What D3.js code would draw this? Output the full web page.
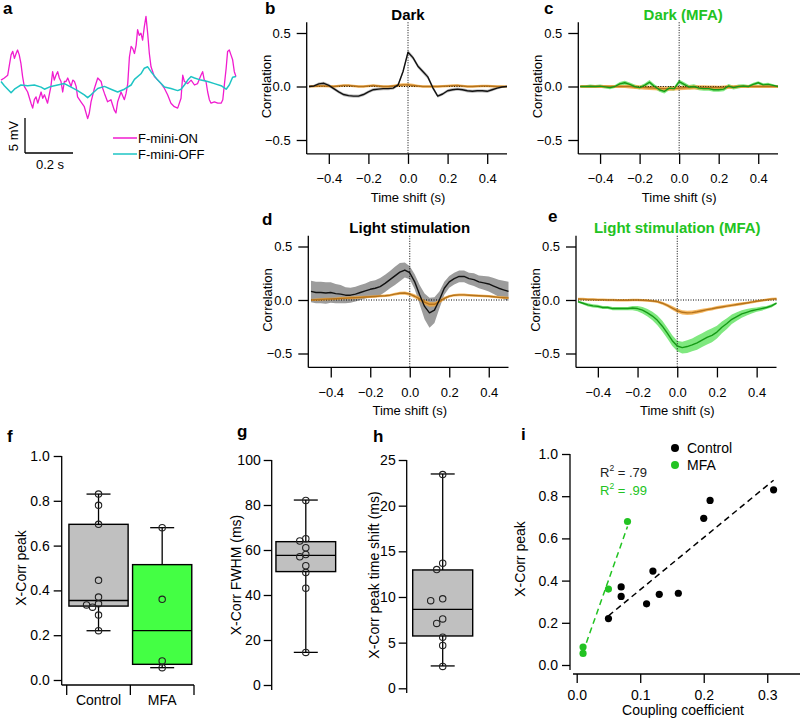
<!DOCTYPE html>
<html>
<head>
<meta charset="utf-8">
<script src="https://cdn.jsdelivr.net/npm/d3@7"></script>
<style>
  body { margin: 0; background: #fff; }
  svg { display: block; font-family: "Liberation Sans", Arial, sans-serif; }
</style>
</head>
<body>
<svg id="fig" width="800" height="720"></svg>
<script>
// ---------- data ----------

// a: example membrane potential traces (time in ms, voltage in mV)
var onTime = [0,14,28,42,49,56,63,69,76,83,90,97,111,125,132,139,146,153,167,174,
  181,194,208,215,222,229,236,243,250,257,264,271,278,292,299,306,313,319,333,347,
  361,368,375,389,403,417,424,431,444,458,472,479,486,500,514,521,528,535,542,549,
  556,563,569,576,583,590,597,604,611,618,625,632,639,653,667,681,694,708,722,736,
  750,757,764,778,792,806,819,833,840,847,854,861,868,875,889,903,917,924,931,938,
  944,951,958,965,972,979];
var onMv = [0.7,1.0,1.4,4.3,4.8,3.8,4.5,5.0,4.3,3.1,1.2,-0.2,-1.0,-2.6,-3.3,-2.1,-1.7,-2.6,-1.0,-1.9,
  -1.4,-2.6,-0.2,1.9,0.7,1.4,1.9,1.0,0.5,-1.0,0.5,0.5,1.0,-0.2,0.7,0.5,-0.2,-1.7,-2.4,-3.1,
  -4.8,-4.0,-2.4,-0.5,1.0,0.5,-0.5,-1.2,-2.4,-2.1,-3.6,-4.0,-2.4,-1.0,-2.1,-1.2,0.2,4.0,5.5,5.2,
  4.5,5.7,7.9,7.1,7.4,6.4,8.3,9.8,7.4,4.5,2.6,1.9,1.2,0.7,0.2,-0.5,-1.4,-2.6,-3.1,-3.3,
  -1.9,1.4,0.5,0.2,0.7,0.0,0.2,1.4,1.9,0.7,0.5,-1.0,-2.1,-2.6,-2.4,-2.6,-2.6,-2.1,0.2,2.4,
  4.8,5.0,4.3,3.6,1.9,1.2];
var offTime = [0,14,28,42,56,69,83,111,139,167,181,208,236,264,292,319,347,361,375,403,
  431,458,486,514,542,556,583,597,611,625,639,653,667,681,708,736,750,764,778,792,
  806,833,861,889,917,938,951,965,979];
var offMv = [0.5,-0.1,-0.6,-1.1,-0.6,-0.3,0.0,-0.1,0.0,-0.3,-0.6,-0.2,0.0,0.2,-0.3,-0.8,-1.4,-1.8,-1.4,-0.5,
  -0.2,-0.6,-1.0,-0.6,0.0,0.8,1.6,2.4,2.6,1.9,1.3,0.7,0.2,-0.3,-0.5,-0.8,-0.6,0.0,0.7,1.2,
  1.0,0.7,0.5,0.2,-0.1,-0.6,0.0,1.1,1.2];
var traceNames = ['F-mini-ON', 'F-mini-OFF'];

// b-e: cross-correlation vs time shift (s)
var lags = [-0.5,-0.475,-0.45,-0.425,-0.4,-0.375,-0.35,-0.325,-0.3,-0.275,-0.25,-0.225,-0.2,-0.175,-0.15,-0.125,-0.1,-0.075,-0.05,-0.025,
  0,0.025,0.05,0.075,0.1,0.125,0.15,0.175,0.2,0.225,0.25,0.275,0.3,0.325,0.35,0.375,0.4,0.425,0.45,0.475,0.5];

var darkMean = [0.00,0.005,0.025,0.03,0.01,-0.02,-0.05,-0.075,-0.085,-0.09,-0.09,-0.075,-0.05,-0.03,-0.025,-0.02,-0.02,-0.015,0.015,0.14,
  0.32,0.27,0.19,0.14,0.09,-0.01,-0.09,-0.07,-0.04,-0.03,-0.025,-0.03,-0.04,-0.045,-0.04,-0.04,-0.045,-0.03,-0.015,-0.005,0.0];
var darkSem = [0.01,0.012,0.015,0.015,0.015,0.015,0.015,0.015,0.015,0.015,0.015,0.015,0.015,0.015,0.015,0.015,0.015,0.015,0.015,0.02,
  0.02,0.02,0.02,0.02,0.02,0.02,0.015,0.015,0.015,0.015,0.015,0.015,0.015,0.015,0.015,0.015,0.015,0.015,0.012,0.01,0.008];
var darkShufMean = [0,0.003,0.005,0.005,0.003,0.0,0.005,0.01,0.01,0.005,0.0,0.0,0.005,0.01,0.005,0.0,0.0,0.005,0.01,0.015,
  0.015,0.01,0.005,0.0,0.0,0.0,0.0,0.003,0.005,0.008,0.01,0.005,0.0,0.0,0.003,0.005,0.005,0.003,0.0,0.0,0.0];
var darkShufSem = [0.01,0.012,0.012,0.012,0.012,0.012,0.012,0.012,0.012,0.012,0.012,0.012,0.012,0.012,0.012,0.012,0.012,0.012,0.015,0.015,
  0.015,0.015,0.012,0.012,0.012,0.012,0.012,0.012,0.012,0.012,0.012,0.012,0.012,0.012,0.012,0.012,0.012,0.012,0.012,0.012,0.01];

var darkMfaMean = [0,0,0.003,0,0.003,-0.003,-0.01,0,0.025,0.035,0.02,0,-0.01,0.01,0.04,0,-0.03,-0.045,-0.015,-0.02,
  0.045,0.02,-0.005,0,-0.015,-0.02,-0.02,-0.03,-0.03,-0.025,0.005,-0.01,0,0.005,0,0.02,0.035,0.015,0.02,0.01,0];
var darkMfaSem = [0.01,0.012,0.015,0.015,0.015,0.015,0.015,0.015,0.018,0.018,0.018,0.018,0.018,0.018,0.02,0.02,0.02,0.02,0.02,0.02,
  0.02,0.02,0.02,0.02,0.02,0.02,0.02,0.02,0.02,0.02,0.018,0.018,0.018,0.015,0.015,0.015,0.015,0.015,0.015,0.012,0.01];
var darkMfaShufMean = [0,0,0,0,0,0,0,0,0,0,0,-0.005,-0.008,-0.01,-0.012,-0.015,-0.018,-0.02,-0.02,-0.018,
  -0.015,-0.012,-0.01,-0.008,-0.008,-0.008,-0.01,-0.01,-0.01,-0.008,-0.005,-0.003,0,0,0,0,0,0,0,0,0];
var darkMfaShufSem = [0.015,0.015,0.015,0.015,0.015,0.015,0.015,0.015,0.015,0.015,0.018,0.018,0.018,0.02,0.02,0.02,0.02,0.02,0.02,0.02,
  0.02,0.02,0.02,0.02,0.02,0.02,0.02,0.02,0.018,0.018,0.018,0.015,0.015,0.015,0.015,0.015,0.015,0.015,0.015,0.015,0.015];

var lightMean = [0.08,0.07,0.07,0.065,0.07,0.06,0.055,0.045,0.045,0.055,0.07,0.085,0.10,0.11,0.125,0.155,0.19,0.225,0.26,0.28,
  0.255,0.17,0.05,-0.06,-0.12,-0.095,0.0,0.11,0.17,0.2,0.22,0.22,0.2,0.19,0.17,0.16,0.15,0.13,0.11,0.095,0.08];
var lightSem = [0.10,0.10,0.10,0.10,0.095,0.09,0.085,0.075,0.07,0.07,0.07,0.07,0.075,0.075,0.08,0.08,0.08,0.085,0.085,0.07,
  0.06,0.07,0.09,0.12,0.14,0.12,0.08,0.06,0.055,0.055,0.055,0.055,0.055,0.06,0.06,0.065,0.07,0.075,0.08,0.085,0.09];
var lightShufMean = [0,0.002,0.005,0.008,0.01,0.012,0.015,0.018,0.02,0.022,0.025,0.028,0.03,0.033,0.037,0.04,0.045,0.055,0.063,0.065,
  0.055,0.035,0.01,-0.02,-0.04,-0.04,-0.015,0.015,0.035,0.045,0.048,0.048,0.045,0.042,0.04,0.037,0.035,0.03,0.025,0.022,0.02];
var lightShufSem = [0.01,0.012,0.012,0.012,0.012,0.012,0.012,0.012,0.012,0.012,0.012,0.012,0.012,0.012,0.012,0.012,0.012,0.012,0.015,0.015,
  0.015,0.018,0.02,0.022,0.022,0.02,0.018,0.015,0.012,0.012,0.012,0.012,0.012,0.012,0.012,0.012,0.012,0.012,0.012,0.012,0.01];

var lightMfaMean = [-0.015,-0.03,-0.045,-0.055,-0.06,-0.07,-0.07,-0.08,-0.08,-0.08,-0.08,-0.075,-0.08,-0.095,-0.12,-0.15,-0.19,-0.245,-0.31,-0.38,
  -0.43,-0.445,-0.435,-0.42,-0.40,-0.375,-0.35,-0.33,-0.30,-0.255,-0.22,-0.18,-0.155,-0.13,-0.115,-0.10,-0.09,-0.08,-0.07,-0.055,-0.03];
var lightMfaSem = [0.01,0.012,0.015,0.015,0.015,0.015,0.015,0.015,0.015,0.015,0.015,0.02,0.025,0.03,0.035,0.04,0.045,0.05,0.05,0.05,
  0.05,0.055,0.06,0.06,0.065,0.065,0.065,0.065,0.06,0.055,0.05,0.045,0.04,0.035,0.03,0.025,0.02,0.02,0.015,0.015,0.01];
var lightMfaShufMean = [0.01,0.008,0.005,0.004,0.003,0.002,0.0,0.0,-0.002,-0.002,-0.002,0,0,-0.002,-0.005,-0.01,-0.015,-0.03,-0.05,-0.075,
  -0.1,-0.115,-0.12,-0.118,-0.11,-0.1,-0.09,-0.082,-0.072,-0.065,-0.057,-0.05,-0.042,-0.035,-0.028,-0.02,-0.012,-0.005,0.002,0.008,0.012];
var lightMfaShufSem = [0.012,0.012,0.012,0.012,0.012,0.012,0.012,0.012,0.012,0.012,0.012,0.012,0.012,0.012,0.012,0.012,0.012,0.014,0.016,0.018,
  0.02,0.02,0.02,0.02,0.018,0.018,0.016,0.015,0.015,0.015,0.014,0.014,0.013,0.013,0.012,0.012,0.012,0.012,0.012,0.012,0.012];

// f-i: per cell summary values
var groups = ['Control', 'MFA'];
var couplingCtrl = [0.05,0.07,0.07,0.11,0.12,0.13,0.16,0.20,0.21,0.31];
var peakCtrl     = [0.22,0.37,0.325,0.29,0.445,0.335,0.34,0.695,0.78,0.83];
var couplingMfa  = [0.01,0.01,0.05,0.08];
var peakMfa      = [0.085,0.055,0.36,0.68];
var fwhm = [82,65,64,61,58,57,53,50,43,14.5];
var peakShift = [23.4,13.7,13.0,9.8,9.6,7.6,7.1,5.6,4.7,2.4];
// box statistics as drawn: [whisker low, q1, median, q3, whisker high]
var peakBoxCtrl = [0.22,0.33,0.355,0.695,0.83];
var peakBoxMfa  = [0.055,0.07,0.22,0.515,0.68];
var fwhmBox  = [14.5,50.4,57.6,63.7,82.2];
var shiftBox = [2.45,5.73,8.65,12.96,23.47];
var r2Labels = ['.79', '.99'];

// ---------- styling ----------
var svg = d3.select('#fig');
var greenText = '#22c322';
var magenta = '#f01ccf';
var cyan = '#1ec4c4';

function styleAxis(a, fs) {
  a.select('.domain').remove();
  a.selectAll('line').attr('stroke', '#000').attr('stroke-width', 1.3);
  a.selectAll('text').attr('font-size', fs).attr('fill', '#000')
    .attr('font-family', '"Liberation Sans", Arial, sans-serif');
}

function vline(g, x, y0, y1) {
  g.append('line').attr('x1', x).attr('x2', x).attr('y1', y0).attr('y2', y1)
    .attr('stroke', '#000').attr('stroke-width', 1.3);
}
function hline(g, y, x0, x1) {
  g.append('line').attr('x1', x0).attr('x2', x1).attr('y1', y).attr('y2', y)
    .attr('stroke', '#000').attr('stroke-width', 1.3);
}

function label(g, txt, x, y, opt) {
  opt = opt || {};
  var t = g.append('text').attr('x', x).attr('y', y).text(txt)
    .attr('font-size', opt.size || 13)
    .attr('text-anchor', opt.anchor || 'middle')
    .attr('fill', opt.color || '#000');
  if (opt.bold) t.attr('font-weight', 'bold');
  if (opt.rotate) t.attr('transform', 'rotate(-90,' + x + ',' + y + ')');
  return t;
}

// panel letters
var letterPos = {a: [3, 14], b: [265, 13.5], c: [544, 13.5], d: [262, 225], e: [548, 222],
                 f: [7, 442], g: [237, 437], h: [373, 442], i: [521, 440]};
Object.keys(letterPos).forEach(function (k) {
  label(svg, k, letterPos[k][0], letterPos[k][1], {size: 17, bold: true, anchor: 'start'});
});

// ---------- a: traces ----------
(function () {
  var g = svg.append('g');
  var x = d3.scaleLinear().domain([0, 979]).range([1, 236]);
  var y = d3.scaleLinear().domain([0, 5]).range([85, 50]);
  var line = d3.line().x(function (d) { return x(d[0]); }).y(function (d) { return y(d[1]); });

  g.append('path').datum(d3.zip(onTime, onMv)).attr('d', line)
    .attr('fill', 'none').attr('stroke', magenta).attr('stroke-width', 1.3).attr('stroke-linejoin', 'round');
  g.append('path').datum(d3.zip(offTime, offMv)).attr('d', line)
    .attr('fill', 'none').attr('stroke', cyan).attr('stroke-width', 1.5).attr('stroke-linejoin', 'round');

  // scale bars: 5 mV, 0.2 s
  var bx = 25, by = 153;
  vline(g, bx, by - (y(0) - y(5)), by);
  hline(g, by, bx, bx + (x(200) - x(0)));
  label(g, '5 mV', 18, 136, {rotate: true, size: 13});
  label(g, '0.2 s', 50, 169, {size: 13});

  var cols = [magenta, cyan];
  traceNames.forEach(function (n, i) {
    var ly = 138 + i * 16;
    g.append('line').attr('x1', 113).attr('x2', 137).attr('y1', ly).attr('y2', ly)
      .attr('stroke', cols[i]).attr('stroke-width', 1.5);
    label(g, n, 138, ly + 5, {anchor: 'start', size: 13});
  });
})();

// ---------- b-e: correlation panels ----------
function corrPanel(o) {
  var g = svg.append('g');
  var x = d3.scaleLinear().domain([-0.5, 0.5]).range([o.x0, o.x1]);
  var y = d3.scaleLinear().domain([-0.5, 0.5]).range([o.zeroY + 53.5, o.zeroY - 53.5]);
  var top = y(0.6), bottom = y(-0.63);

  var area = d3.area().x(function (d) { return x(d[0]); })
    .y0(function (d) { return y(d[1] - d[2]); })
    .y1(function (d) { return y(d[1] + d[2]); });
  var line = d3.line().x(function (d) { return x(d[0]); }).y(function (d) { return y(d[1]); });

  o.series.forEach(function (s) {
    g.append('path').datum(d3.zip(lags, s.mean, s.sem)).attr('d', area)
      .attr('fill', s.band).attr('opacity', s.bandOpacity || 1);
  });

  // dotted zero lines
  g.append('line').attr('x1', x(0)).attr('x2', x(0)).attr('y1', top).attr('y2', bottom)
    .attr('stroke', '#000').attr('stroke-width', 1).attr('stroke-dasharray', '1,1.5');
  g.append('line').attr('x1', x(-0.5)).attr('x2', x(0.5)).attr('y1', y(0)).attr('y2', y(0))
    .attr('stroke', '#000').attr('stroke-width', 1).attr('stroke-dasharray', '1,1.5');

  o.series.slice().reverse().forEach(function (s) {
    g.append('path').datum(d3.zip(lags, s.mean)).attr('d', line)
      .attr('fill', 'none').attr('stroke', s.line).attr('stroke-width', s.width || 1.4)
      .attr('stroke-linejoin', 'round');
  });

  var ya = g.append('g').attr('transform', 'translate(' + o.left + ',0)')
    .call(d3.axisLeft(y).tickValues([-0.5, 0, 0.5]).tickFormat(d3.format('.1f')).tickSize(10).tickPadding(6));
  styleAxis(ya, 13);
  vline(g, o.left, top, bottom);

  var xa = g.append('g').attr('transform', 'translate(0,' + bottom + ')')
    .call(d3.axisBottom(x).tickValues([-0.4, -0.2, 0, 0.2, 0.4]).tickFormat(d3.format('.1f')).tickSize(10).tickPadding(10));
  styleAxis(xa, 13);
  hline(g, bottom, o.left, o.x1);

  label(g, 'Time shift (s)', x(0), bottom + 48, {size: 13});
  label(g, 'Correlation', o.left - 36, o.zeroY, {size: 13, rotate: true});
  label(g, o.title, x(0) + (o.titleDx || 0), top - 2.5, {size: 15, bold: true, color: o.titleColor});
}

var black = {line: '#111', band: '#a3a3a3'};
var orange = {line: '#b5731c', band: '#f4a73c', bandOpacity: 0.8};
var green = {line: '#169a16', band: '#7fe87f'};

corrPanel({left: 306.7, x0: 309, x1: 507, zeroY: 86.5, title: 'Dark', titleColor: '#000',
  series: [
    {mean: darkMean, sem: darkSem, line: black.line, band: '#c2c2c2'},
    {mean: darkShufMean, sem: darkShufSem, line: orange.line, band: orange.band, bandOpacity: orange.bandOpacity}
  ]});
corrPanel({left: 578.3, x0: 580.3, x1: 778, zeroY: 86.5, title: 'Dark (MFA)', titleColor: greenText, titleDx: 4,
  series: [
    {mean: darkMfaMean, sem: darkMfaSem, line: green.line, band: green.band},
    {mean: darkMfaShufMean, sem: darkMfaShufSem, line: orange.line, band: orange.band, bandOpacity: orange.bandOpacity}
  ]});
corrPanel({left: 308.3, x0: 311, x1: 508.5, zeroY: 300, title: 'Light stimulation', titleColor: '#000',
  series: [
    {mean: lightMean, sem: lightSem, line: black.line, band: '#9c9c9c'},
    {mean: lightShufMean, sem: lightShufSem, line: orange.line, band: orange.band, bandOpacity: orange.bandOpacity}
  ]});
corrPanel({left: 576, x0: 578, x1: 776.5, zeroY: 300, title: 'Light stimulation (MFA)', titleColor: greenText,
  series: [
    {mean: lightMfaMean, sem: lightMfaSem, line: green.line, band: green.band},
    {mean: lightMfaShufMean, sem: lightMfaShufSem, line: orange.line, band: orange.band, bandOpacity: orange.bandOpacity}
  ]});

// ---------- f-h: box plots ----------
function drawBox(g, y, cx, bw, stats, values, fill) {
  var capW = 24;
  vline(g, cx, y(stats[4]), y(stats[0]));
  hline(g, y(stats[4]), cx - capW / 2, cx + capW / 2);
  hline(g, y(stats[0]), cx - capW / 2, cx + capW / 2);
  g.append('rect').attr('x', cx - bw / 2).attr('width', bw)
    .attr('y', y(stats[3])).attr('height', y(stats[1]) - y(stats[3]))
    .attr('fill', fill).attr('stroke', '#000').attr('stroke-width', 1.4);
  hline(g, y(stats[2]), cx - bw / 2, cx + bw / 2);

  // simple dodge so overlapping points sit side by side
  var r = 3.2, placed = [];
  values.slice().sort(function (a, b) { return b - a; }).forEach(function (v) {
    var py = y(v), offs = [0, -6, 6, -12, 12], px = cx;
    for (var k = 0; k < offs.length; k++) {
      var cand = cx + offs[k];
      var hit = placed.some(function (p) { return Math.hypot(p[0] - cand, p[1] - py) < 2 * r; });
      if (!hit) { px = cand; break; }
    }
    placed.push([px, py]);
  });
  g.selectAll(null).data(placed).enter().append('circle')
    .attr('cx', function (d) { return d[0]; }).attr('cy', function (d) { return d[1]; })
    .attr('r', r).attr('fill', 'none').attr('stroke', '#222').attr('stroke-width', 1.1);
}

// f
(function () {
  var g = svg.append('g');
  var y = d3.scaleLinear().domain([0, 1]).range([680, 456]);
  var x = d3.scaleBand().domain(groups).range([66.7, 194]);
  var ya = g.append('g').attr('transform', 'translate(61.7,0)')
    .call(d3.axisLeft(y).tickValues([0, 0.2, 0.4, 0.6, 0.8, 1.0]).tickFormat(d3.format('.1f')).tickSize(8).tickPadding(4));
  styleAxis(ya, 14);
  vline(g, 61.7, y(1), 685);
  hline(g, 685, 61.7, x.range()[1]);
  groups.forEach(function (c) { vline(g, x(c), 685, 695); });
  vline(g, x.range()[1], 685, 695);
  groups.forEach(function (c) { label(g, c, x(c) + x.bandwidth() / 2, 705, {size: 14}); });
  var bw = x.bandwidth() * 0.93;
  drawBox(g, y, x('Control') + x.bandwidth() / 2, bw, peakBoxCtrl, peakCtrl, '#c0c0c0');
  drawBox(g, y, x('MFA') + x.bandwidth() / 2, bw, peakBoxMfa, peakMfa, '#44ff44');
  label(g, 'X-Corr peak', 26, 568, {size: 14, rotate: true});
})();

// g
(function () {
  var g = svg.append('g');
  var y = d3.scaleLinear().domain([0, 100]).range([685, 460]);
  var ya = g.append('g').attr('transform', 'translate(271.7,0)')
    .call(d3.axisLeft(y).tickValues([0, 20, 40, 60, 80, 100]).tickSize(8).tickPadding(3));
  styleAxis(ya, 14);
  vline(g, 271.7, y(100), 690);
  drawBox(g, y, 305.8, 59.7, fwhmBox, fwhm, '#c0c0c0');
  label(g, 'X-Corr FWHM (ms)', 241, 575, {size: 14, rotate: true});
})();

// h
(function () {
  var g = svg.append('g');
  var y = d3.scaleLinear().domain([0, 25]).range([688.3, 460]);
  var ya = g.append('g').attr('transform', 'translate(406.7,0)')
    .call(d3.axisLeft(y).tickValues([0, 5, 10, 15, 20, 25]).tickSize(8).tickPadding(3));
  styleAxis(ya, 14);
  vline(g, 406.7, y(25), 693);
  drawBox(g, y, 442.7, 60, shiftBox, peakShift, '#c0c0c0');
  label(g, 'X-Corr peak time shift (ms)', 379, 575, {size: 14, rotate: true});
})();

// ---------- i: scatter ----------
(function () {
  var g = svg.append('g');
  var x = d3.scaleLinear().domain([0, 0.35]).range([576.7, 799]);
  var y = d3.scaleLinear().domain([0, 1]).range([665, 454]);
  var axisY = 674;

  var ya = g.append('g').attr('transform', 'translate(570,0)')
    .call(d3.axisLeft(y).tickValues([0, 0.2, 0.4, 0.6, 0.8, 1.0]).tickFormat(d3.format('.1f')).tickSize(8).tickPadding(4));
  styleAxis(ya, 14);
  vline(g, 570, y(1), 670);
  var xa = g.append('g').attr('transform', 'translate(0,' + axisY + ')')
    .call(d3.axisBottom(x).tickValues([0, 0.1, 0.2, 0.3]).tickFormat(d3.format('.1f')).tickSize(9).tickPadding(7));
  styleAxis(xa, 14);
  hline(g, axisY, 573, 800);

  label(g, 'Coupling coefficient', 683, 715, {size: 14});
  label(g, 'X-Corr peak', 525, 559, {size: 14, rotate: true});

  // least-squares fits drawn over each group's x range
  function fit(xs, ys, col) {
    var mx = d3.mean(xs), my = d3.mean(ys);
    var sxy = d3.sum(xs, function (v, i) { return (v - mx) * (ys[i] - my); });
    var sxx = d3.sum(xs, function (v) { return (v - mx) * (v - mx); });
    var k = sxy / sxx, b = my - k * mx;
    var ext = d3.extent(xs);
    g.append('line').attr('x1', x(ext[0])).attr('y1', y(k * ext[0] + b))
      .attr('x2', x(ext[1])).attr('y2', y(k * ext[1] + b))
      .attr('stroke', col).attr('stroke-width', 1.5).attr('stroke-dasharray', '6,4');
  }
  fit(couplingCtrl, peakCtrl, '#000');
  fit(couplingMfa, peakMfa, greenText);

  var sets = [[couplingCtrl, peakCtrl, '#000'], [couplingMfa, peakMfa, greenText]];
  sets.forEach(function (s) {
    g.selectAll(null).data(d3.zip(s[0], s[1])).enter().append('circle')
      .attr('cx', function (d) { return x(d[0]); }).attr('cy', function (d) { return y(d[1]); })
      .attr('r', 3.6).attr('fill', s[2]);
  });

  // legend
  groups.forEach(function (n, i) {
    var ly = 448 + i * 17;
    g.append('circle').attr('cx', 675).attr('cy', ly).attr('r', 4).attr('fill', sets[i][2]);
    label(g, n, 687, ly + 5, {anchor: 'start', size: 14});
  });

  r2Labels.forEach(function (v, i) {
    var t = g.append('text').attr('x', 600).attr('y', 477 + i * 18)
      .attr('font-size', 13).attr('fill', i ? greenText : '#222');
    t.append('tspan').text('R');
    t.append('tspan').attr('dy', -6).attr('font-size', 8.5).text('2');
    t.append('tspan').attr('dy', 6).text(' = ' + v);
  });
})();
</script>
</body>
</html>
